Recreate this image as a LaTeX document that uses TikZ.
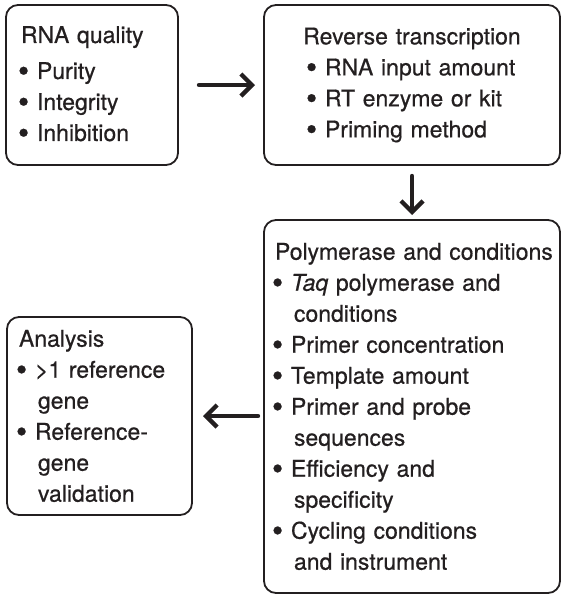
\documentclass[tikz,border=0pt]{standalone}
\usepackage{fontspec}
\setmainfont{TeX Gyre Heros}[FakeBold=0.6]
\usetikzlibrary{arrows.meta,calc,positioning}
\definecolor{ink}{HTML}{231F20}
% bullet and hanging indent for the list lines
\newcommand{\itm}{\makebox[8pt][l]{\hspace*{-1.5pt}\raisebox{-1.4pt}{\fontsize{16}{0}\selectfont\textbullet}}}
\newcommand{\cont}{\hspace*{9.5pt}}

\begin{document}
\begin{tikzpicture}[
  node distance=27.5pt and 43pt,
  >={Straight Barb[length=5.5pt,width=11pt]},
  line cap=round,
  line join=round,
  every node/.style={font=\fontsize{11.5}{15.5}\selectfont, text=ink},
  box/.style={draw=ink, line width=0.9pt, rounded corners=6pt, align=left, inner ysep=0pt, outer sep=0pt},
  arrow/.style={->, line width=2.2pt, draw=ink}
]
  \node[box, minimum width=86pt, minimum height=80pt, text width=71pt, inner xsep=7.5pt] (rna)
    {RNA quality\\[2.5pt]
     \itm Purity\\
     \itm Integrity\\
     \itm Inhibition};
  \node[box, right=of rna, minimum width=148pt, minimum height=80pt, text width=140pt, inner xsep=4pt] (rt)
    {\makebox[\linewidth]{Reverse transcription}\\
     \hspace*{18.5pt}\itm RNA input amount\\
     \hspace*{18.5pt}\itm RT enzyme or kit\\
     \hspace*{18.5pt}\itm Priming method};
  \node[box, below=of rt, minimum width=148pt, minimum height=186.5pt, text width=137pt, inner xsep=5.5pt] (pol)
    {\mbox{Polymerase and conditions}\\
     \itm\textit{Taq} polymerase and\\
     \cont conditions\\
     \itm Primer concentration\\
     \itm Template amount\\
     \itm Primer and probe\\
     \cont sequences\\
     \itm Efficiency and\\
     \cont specificity\\
     \itm Cycling conditions\\
     \cont and instrument};
  \node[box, left=36pt of pol, yshift=-4.75pt, minimum width=92.5pt, minimum height=99pt, text width=80.5pt, inner xsep=6pt] (ana)
    {Analysis\\
     \itm >1 reference\\
     \cont gene\\
     \itm Reference-\\
     \cont gene\\
     \cont validation};

  % page frame, margins as in the reference
  \useasboundingbox ($(rna.north west)+(-3pt,2.5pt)$) rectangle ++(283pt,-300pt);

  \draw[arrow, shorten <=10.5pt, shorten >=4.5pt] (rna) -- (rt);
  \draw[arrow, shorten <=5.5pt, shorten >=2.5pt] (rt) -- (pol);
  \draw[arrow, shorten <=3pt, shorten >=5.5pt] (pol.west |- ana.east) -- (ana.east);
\end{tikzpicture}
\end{document}
